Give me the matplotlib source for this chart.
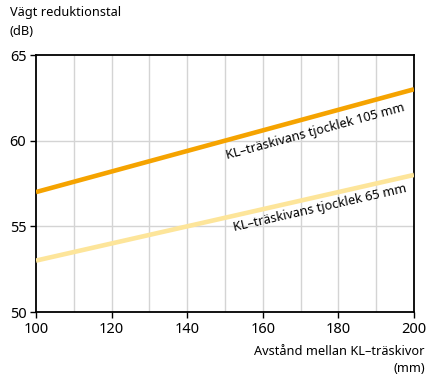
import matplotlib
matplotlib.use("Agg")
import matplotlib.pyplot as plt
import numpy as np

x_vals = [100, 120, 140, 160, 180, 200]
y_105 = [57.0, 58.2, 59.4, 60.6, 61.8, 63.0]
y_65 = [53.0, 54.0, 55.0, 56.0, 57.0, 58.0]
label_105 = "KL–träskivans tjocklek 105 mm"
label_65 = "KL–träskivans tjocklek 65 mm"
x_ticks = [100, 120, 140, 160, 180, 200]
y_ticks = [50, 55, 60, 65]

plt.rcParams['font.family'] = ['Noto Sans', 'DejaVu Sans']

fig = plt.figure(figsize=(4.35, 3.86), dpi=100)
ax = fig.add_axes([0.0828, 0.1917, 0.8689, 0.6658])

ax.set_xlim(100, 200)
ax.set_ylim(50, 65)
ax.set_xticks(x_ticks)
ax.set_yticks(y_ticks)
for xv in np.arange(110, 200, 10):
    ax.axvline(xv, color='#d4d4d4', lw=1, zorder=0)
for yv in [55, 60]:
    ax.axhline(yv, color='#d4d4d4', lw=1, zorder=0)
ax.tick_params(which='major', length=4, width=1, labelsize=10.5, color='black', pad=3)

for s in ax.spines.values():
    s.set_linewidth(1.3)
    s.set_color('black')

ax.plot(x_vals, y_105, color='#F5A300', lw=3.3, solid_capstyle='butt', zorder=3)
ax.plot(x_vals, y_65, color='#FDE59A', lw=3.3, solid_capstyle='butt', zorder=3)

ax.text(174, 60.55, label_105, rotation=15.2, ha='center', va='center', fontsize=9.2, rotation_mode='anchor')
ax.text(175, 56.05, label_65, rotation=12.8, ha='center', va='center', fontsize=9.2, rotation_mode='anchor')

fig.text(10/435, 1-6/386, "Vägt reduktionstal\n(dB)", ha='left', va='top', fontsize=9.2, linespacing=1.6)
fig.text(425/435, 1-345/386, "Avstånd mellan KL–träskivor\n(mm)", ha='right', va='top', fontsize=9.2, linespacing=1.35, multialignment='right')

fig.savefig("out.png", dpi=100)
